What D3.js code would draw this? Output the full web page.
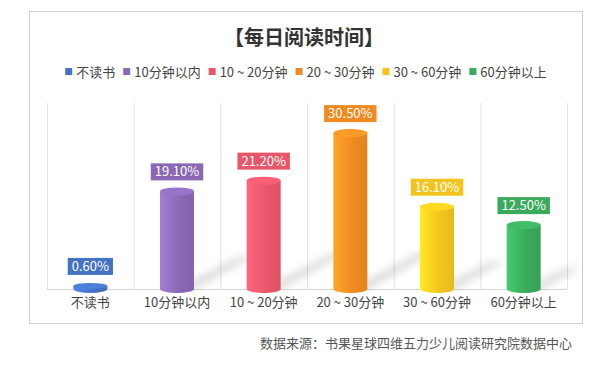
<!DOCTYPE html>
<html><head><meta charset="utf-8">
<script src="https://cdn.jsdelivr.net/npm/d3@7"></script>
<style>html,body{margin:0;padding:0;background:#fff;}svg{display:block;font-family:"Noto Sans CJK SC","Noto Sans",sans-serif;}</style>
</head><body>
<svg id="c" width="600" height="366"></svg>
<script>
const title = "【每日阅读时间】";
const categories = ["不读书","10分钟以内","10～20分钟","20～30分钟","30～60分钟","60分钟以上"];
const legendLabels = ["不读书","10分钟以内","10 ~ 20分钟","20 ~ 30分钟","30 ~ 60分钟","60分钟以上"];
const axisLabels = ["不读书","10分钟以内","10 ~ 20分钟","20 ~ 30分钟","30 ~ 60分钟","60分钟以上"];
const values = [0.6, 19.1, 21.2, 30.5, 16.1, 12.5];
const valueLabels = ["0.60%","19.10%","21.20%","30.50%","16.10%","12.50%"];
const colors = ["#4472c4","#8a68b4","#e9566a","#f08a22","#f3c41e","#3aaa5c"];
const source = "数据来源：书果星球四维五力少儿阅读研究院数据中心";

const svg = d3.select("#c");
const defs = svg.append("defs");
const filt = defs.append("filter").attr("id","blur").attr("x","-50%").attr("y","-50%").attr("width","200%").attr("height","200%");
filt.append("feGaussianBlur").attr("stdDeviation",4.5);

// frame
svg.append("rect").attr("x",29.5).attr("y",11.5).attr("width",553).attr("height",312)
  .attr("fill","#fff").attr("stroke","#d0d0d0");

svg.append("text").attr("x",304).attr("y",45).attr("text-anchor","middle")
  .attr("font-size",20).attr("font-weight","bold").attr("fill","#333").text(title);

const x = d3.scaleBand().domain(categories).range([47,567]).paddingInner(0).paddingOuter(0);
const y = d3.scaleLinear().domain([0,36]).range([289,105]);

// gridlines
const gl = svg.append("g");
const edges = categories.map(c => x(c)).concat([x.range()[1]]);
gl.selectAll("line").data(edges).join("line")
  .attr("x1",d=>d+0.5).attr("x2",d=>d+0.5).attr("y1",103).attr("y2",289)
  .attr("stroke","#e3e3e3");
svg.append("line").attr("x1",47).attr("x2",567).attr("y1",289.5).attr("y2",289.5).attr("stroke","#d6d6d6");

// legend
const lg = svg.append("g").attr("font-size",13).attr("fill","#444");
const tmp = lg.append("text").attr("visibility","hidden");
const widths = legendLabels.map(t => { tmp.text(t); return tmp.node().getComputedTextLength(); });
tmp.remove();
const sw = 7, gap = 4, itemGap = 8;
const total = d3.sum(widths) + legendLabels.length*(sw+gap) + itemGap*(legendLabels.length-1);
let lx = 306 - total/2;
legendLabels.forEach((t,i)=>{
  lg.append("rect").attr("x",lx).attr("y",68).attr("width",sw).attr("height",sw).attr("fill",colors[i]);
  lg.append("text").attr("x",lx+sw+gap).attr("y",76.5).text(t);
  lx += sw+gap+widths[i]+itemGap;
});

// bars
const bw = 34, ry = 4;
const bars = svg.append("g");
categories.forEach((c,i)=>{
  const cx = x(c) + x.bandwidth()/2;
  const top = y(values[i]);
  const base = y(0);
  const col = d3.color(colors[i]);
  const gid = "g"+i;
  const g = defs.append("linearGradient").attr("id",gid).attr("x1","0").attr("x2","1");
  g.append("stop").attr("offset","0").attr("stop-color",col.brighter(0.5));
  g.append("stop").attr("offset","0.6").attr("stop-color",col);
  g.append("stop").attr("offset","1").attr("stop-color",col.darker(0.15));
  const h = base - top;
  if (h > 10) {
    const sh = Math.min(h*0.35, 40);
    bars.append("path")
      .attr("d",`M${cx},${base} L${cx+bw/2},${base} L${cx+bw/2+sh*1.8},${base-sh} L${cx+bw/2+sh*1.8-16},${base-sh+2} Z`)
      .attr("fill","#000").attr("opacity",0.16).attr("filter","url(#blur)");
  }
  bars.append("path")
    .attr("d",`M${cx-bw/2},${top} L${cx-bw/2},${base} A${bw/2},${ry} 0 0 0 ${cx+bw/2},${base} L${cx+bw/2},${top} Z`)
    .attr("fill",`url(#${gid})`);
  bars.append("ellipse").attr("cx",cx).attr("cy",top).attr("rx",bw/2).attr("ry",Math.min(ry, Math.max(1.5,h/2+1.5)))
    .attr("fill",col.brighter(0.3));
  const lab = svg.append("g");
  const t = lab.append("text").attr("font-size",13).attr("fill","#fff").attr("text-anchor","middle")
    .text(valueLabels[i]);
  const tw = t.node().getComputedTextLength();
  const by = top - ry - 7;
  lab.insert("rect","text").attr("x",cx-tw/2-4).attr("y",by-17).attr("width",tw+8).attr("height",17)
    .attr("fill",colors[i]);
  t.attr("x",cx).attr("y",by-4);
  svg.append("text").attr("x",cx).attr("y",307).attr("text-anchor","middle").attr("font-size",13)
    .attr("fill","#444").text(axisLabels[i]);
});

svg.append("text").attr("x",572).attr("y",348).attr("text-anchor","end").attr("font-size",13)
  .attr("fill","#555").text(source);
</script>
</body></html>
